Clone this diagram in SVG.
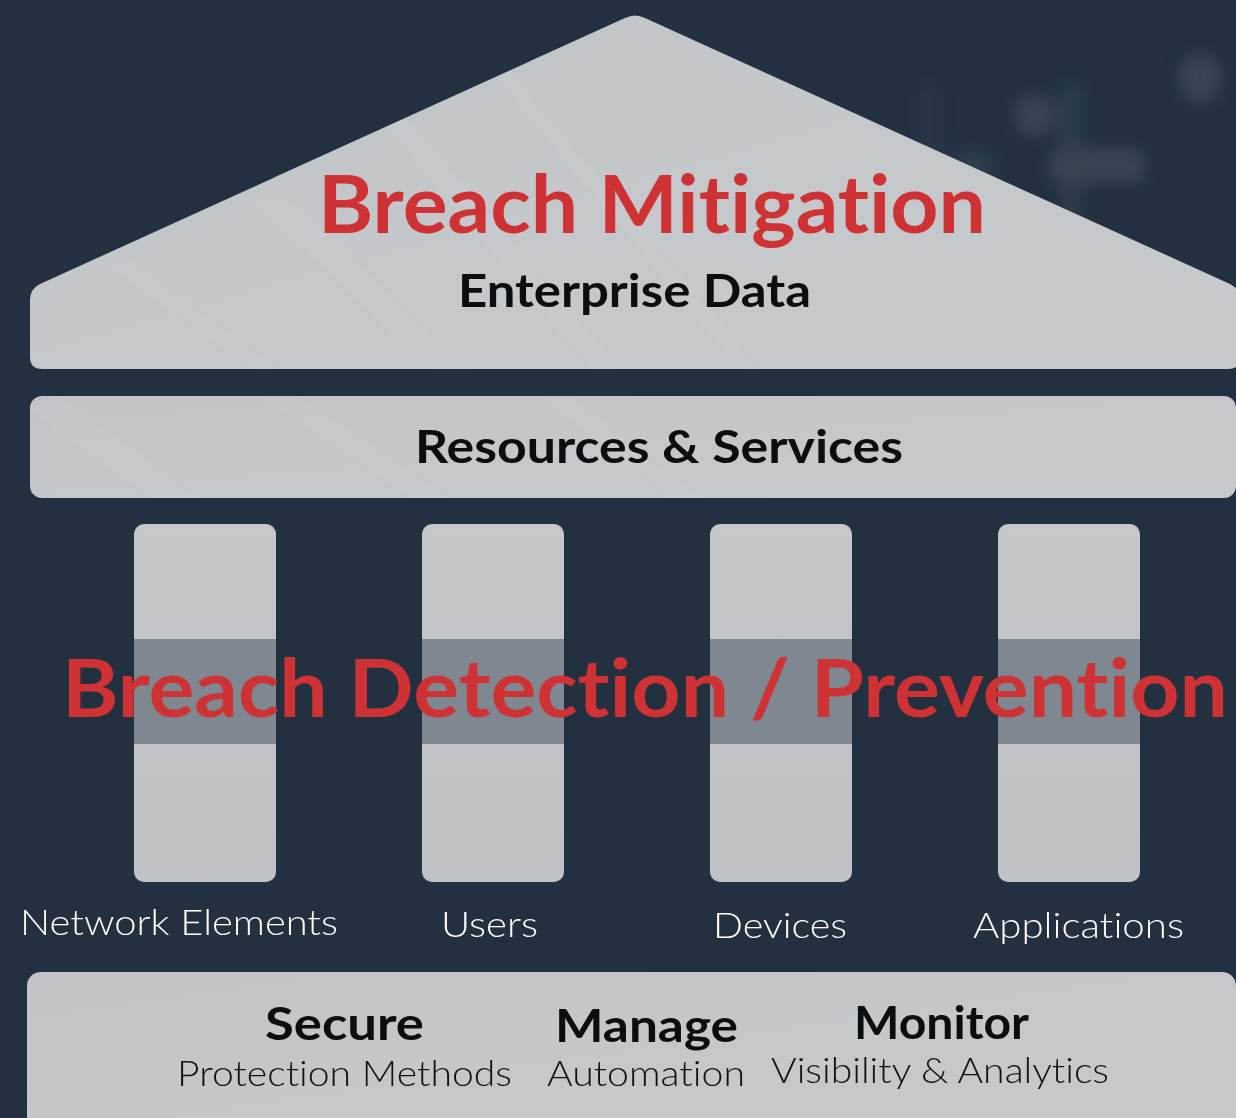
<svg xmlns="http://www.w3.org/2000/svg" width="1236" height="1118" viewBox="0 0 1236 1118">
<defs>
<style>
text{font-variant-ligatures:none;font-feature-settings:"liga" 0,"clig" 0}
.light{fill:url(#lg)}
.pillar{fill:url(#pg)}
.band{fill:#7f8891}
.red{font-family:Lato,"Open Sans","Liberation Sans",sans-serif;font-weight:700;fill:#cf3234}
.blk{font-family:Lato,"Open Sans","Liberation Sans",sans-serif;font-weight:700;fill:#0d0d0d}
.lbl{font-family:Lato,"Open Sans","Liberation Sans",sans-serif;font-weight:300;fill:#ffffff}
.sub{font-family:Lato,"Open Sans","Liberation Sans",sans-serif;font-weight:300;fill:#111111}
.streak{fill:#ffffff;opacity:0.05}
</style>
<linearGradient id="lg" x1="0" y1="0" x2="1" y2="1">
<stop offset="0" stop-color="#c0c4c7"/>
<stop offset="0.5" stop-color="#c4c8cb"/>
<stop offset="1" stop-color="#c7cacd"/>
</linearGradient>
<linearGradient id="pg" x1="0" y1="0" x2="0" y2="1">
<stop offset="0" stop-color="#c4c8cb"/>
<stop offset="1" stop-color="#bec2c5"/>
</linearGradient>
<filter id="blur" x="-50%" y="-50%" width="200%" height="200%">
<feGaussianBlur stdDeviation="8"/>
</filter>
<clipPath id="roofclip">
<path d="M625 18 L40 284 Q30 289 30 300 L30 357 Q30 369 42 369 L1228 369 Q1240 369 1240 357 L1240 300 Q1240 289 1230 284 L645 18 Q635 13 625 18 Z"/>
</clipPath>
<clipPath id="bandclip"><rect x="30" y="396" width="1206" height="102" rx="12"/></clipPath>
</defs>
<rect x="0" y="0" width="1236" height="1118" fill="#22303f"/>
<g id="bg-blobs" filter="url(#blur)" fill="#3e4b57" opacity="0.8">
<ellipse cx="1200" cy="78" rx="22" ry="26"/>
<ellipse cx="1035" cy="115" rx="22" ry="22"/>
<rect x="1060" y="80" width="22" height="150" rx="10" opacity="0.6"/>
<rect x="1050" y="148" width="95" height="36" rx="10"/>
<rect x="950" y="150" width="45" height="30" rx="10" opacity="0.6"/>
<rect x="920" y="80" width="20" height="90" rx="10" opacity="0.4"/>
</g>
<g id="roof">
<path class="light" d="M625 18 L40 284 Q30 289 30 300 L30 357 Q30 369 42 369 L1228 369 Q1240 369 1240 357 L1240 300 Q1240 289 1230 284 L645 18 Q635 13 625 18 Z"/>
<g clip-path="url(#roofclip)">
<polygon class="streak" points="100,260 130,260 280,369 250,369"/>
<polygon class="streak" points="250,200 290,200 470,369 430,369"/>
<polygon class="streak" points="380,120 410,120 620,369 590,369"/>
<polygon class="streak" points="480,60 500,60 760,369 740,369"/>
</g>
<text class="red" x="318" y="233" font-size="80" textLength="668" lengthAdjust="spacingAndGlyphs">Breach Mitigation</text>
<text class="blk" x="458" y="307" font-size="45" textLength="353" lengthAdjust="spacingAndGlyphs">Enterprise Data</text>
</g>
<g id="resources">
<rect class="light" x="30" y="396" width="1206" height="102" rx="12"/>
<g clip-path="url(#bandclip)">
<polygon class="streak" points="30,410 60,396 200,498 150,498"/>
<polygon class="streak" points="260,396 300,396 450,498 410,498"/>
<polygon class="streak" points="540,396 570,396 700,498 670,498"/>
</g>
<text class="blk" x="415" y="463" font-size="46" textLength="488" lengthAdjust="spacingAndGlyphs">Resources &amp; Services</text>
</g>
<g id="pillar-network">
<rect class="pillar" x="134" y="524" width="142" height="358" rx="10"/>
<rect class="band" x="134" y="639" width="142" height="105"/>
<text class="lbl" x="20" y="935" font-size="36" textLength="318" lengthAdjust="spacingAndGlyphs">Network Elements</text>
</g>
<g id="pillar-users">
<rect class="pillar" x="422" y="524" width="142" height="358" rx="10"/>
<rect class="band" x="422" y="639" width="142" height="105"/>
<text class="lbl" x="441" y="937" font-size="36" textLength="97" lengthAdjust="spacingAndGlyphs">Users</text>
</g>
<g id="pillar-devices">
<rect class="pillar" x="710" y="524" width="142" height="358" rx="10"/>
<rect class="band" x="710" y="639" width="142" height="105"/>
<text class="lbl" x="713" y="938" font-size="36" textLength="134" lengthAdjust="spacingAndGlyphs">Devices</text>
</g>
<g id="pillar-applications">
<rect class="pillar" x="998" y="524" width="142" height="358" rx="10"/>
<rect class="band" x="998" y="639" width="142" height="105"/>
<text class="lbl" x="973" y="938" font-size="36" textLength="211" lengthAdjust="spacingAndGlyphs">Applications</text>
</g>
<g id="detection-label">
<text class="red" x="62" y="717" font-size="80" textLength="1166" lengthAdjust="spacingAndGlyphs">Breach Detection / Prevention</text>
</g>
<g id="base">
<rect class="light" x="27" y="972" width="1209" height="170" rx="14"/>
<text class="blk" x="265" y="1040" font-size="46" textLength="159" lengthAdjust="spacingAndGlyphs">Secure</text>
<text class="sub" x="177" y="1086" font-size="36" textLength="335" lengthAdjust="spacingAndGlyphs">Protection Methods</text>
<text class="blk" x="555" y="1042" font-size="46" textLength="183" lengthAdjust="spacingAndGlyphs">Manage</text>
<text class="sub" x="547" y="1086" font-size="36" textLength="198" lengthAdjust="spacingAndGlyphs">Automation</text>
<text class="blk" x="854" y="1039" font-size="46" textLength="175" lengthAdjust="spacingAndGlyphs">Monitor</text>
<text class="sub" x="771" y="1083" font-size="36" textLength="338" lengthAdjust="spacingAndGlyphs">Visibility &amp; Analytics</text>
</g>
<g id="connectors"/>
</svg>
